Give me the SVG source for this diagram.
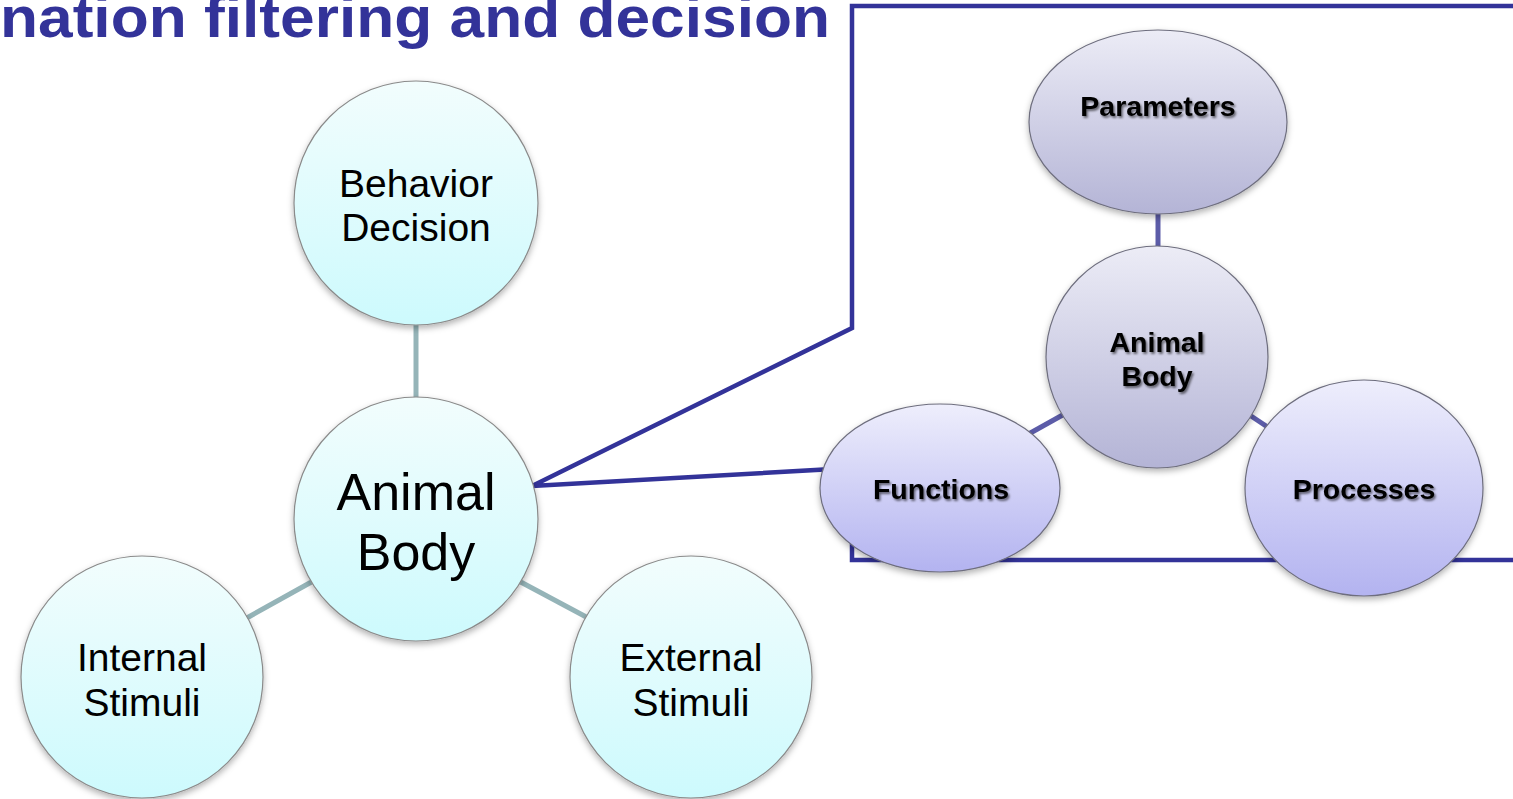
<svg xmlns="http://www.w3.org/2000/svg" width="1513" height="799" viewBox="0 0 1513 799">
<defs>
<linearGradient id="gCyan" x1="0" y1="0" x2="0" y2="1">
<stop offset="0" stop-color="#f2fdfd"/>
<stop offset="1" stop-color="#cdfafd"/>
</linearGradient>
<linearGradient id="gGray" x1="0" y1="0" x2="0" y2="1">
<stop offset="0" stop-color="#ececf6"/>
<stop offset="1" stop-color="#b4b4d6"/>
</linearGradient>
<linearGradient id="gBlue" x1="0" y1="0" x2="0" y2="1">
<stop offset="0" stop-color="#eeeefc"/>
<stop offset="1" stop-color="#b3b3f0"/>
</linearGradient>
<filter id="sh" x="-20%" y="-20%" width="140%" height="150%">
<feDropShadow dx="0" dy="3" stdDeviation="3" flood-color="#000" flood-opacity="0.3"/>
</filter>
<filter id="tsh" x="-10%" y="-30%" width="120%" height="160%">
<feDropShadow dx="1.5" dy="2" stdDeviation="1.2" flood-color="#000" flood-opacity="0.55"/>
</filter>
<style>
.lc{fill:url(#gCyan);stroke:#8a8a8a;stroke-width:1.2;filter:url(#sh)}
.rg{fill:url(#gGray);stroke:#6e6e7e;stroke-width:1.2;filter:url(#sh)}
.rb{fill:url(#gBlue);stroke:#6e6e7e;stroke-width:1.2;filter:url(#sh)}
.lt{font-family:"Liberation Sans",Arial,sans-serif;font-size:39px;fill:#000;text-anchor:middle}
.big{font-size:52px}
.rt{font-family:"Liberation Sans",Arial,sans-serif;font-size:28.5px;font-weight:bold;fill:#000;text-anchor:middle;filter:url(#tsh)}
.lcon{stroke:#95b4b8;stroke-width:5;fill:none}
.rcon{stroke:#5c5ca8;stroke-width:5;fill:none}
</style>
</defs>
<rect width="1513" height="799" fill="#fff"/>
<text x="0" y="37" font-family="Liberation Sans,Arial,sans-serif" font-size="58" font-weight="bold" fill="#333399" textLength="830" lengthAdjust="spacingAndGlyphs">nation filtering and decision</text>
<g id="connectors">
<line class="lcon" x1="416" y1="320" x2="416" y2="402"/>
<line class="lcon" x1="315" y1="580" x2="245" y2="619"/>
<line class="lcon" x1="517" y1="580" x2="590" y2="619"/>
<line class="rcon" x1="1158" y1="210" x2="1158" y2="250"/>
<line class="rcon" x1="1068" y1="412" x2="1025" y2="436"/>
<line class="rcon" x1="1245" y1="412" x2="1272" y2="430"/>
</g>
<g id="callout">
<polyline points="1513,6 852,6 852,328 532,486 852,468 852,560 1513,560" fill="none" stroke="#333399" stroke-width="4.5" stroke-linejoin="miter" stroke-linecap="round"/>
</g>
<g id="behavior-decision">
<circle class="lc" cx="416" cy="203" r="122"/>
<text class="lt" x="416" y="197">Behavior</text>
<text class="lt" x="416" y="241">Decision</text>
</g>
<g id="animal-body-left">
<circle class="lc" cx="416" cy="519" r="122"/>
<text class="lt big" x="416" y="510">Animal</text>
<text class="lt big" x="416" y="570">Body</text>
</g>
<g id="internal-stimuli">
<circle class="lc" cx="142" cy="677" r="121"/>
<text class="lt" x="142" y="671">Internal</text>
<text class="lt" x="142" y="716">Stimuli</text>
</g>
<g id="external-stimuli">
<circle class="lc" cx="691" cy="677" r="121"/>
<text class="lt" x="691" y="671">External</text>
<text class="lt" x="691" y="716">Stimuli</text>
</g>
<g id="parameters">
<ellipse class="rg" cx="1158" cy="122" rx="129" ry="92"/>
<text class="rt" x="1158" y="116">Parameters</text>
</g>
<g id="animal-body-right">
<circle class="rg" cx="1157" cy="357" r="111"/>
<text class="rt" x="1157" y="352">Animal</text>
<text class="rt" x="1157" y="386">Body</text>
</g>
<g id="functions">
<ellipse class="rb" cx="940" cy="488" rx="120" ry="84"/>
<text class="rt" x="941" y="499">Functions</text>
</g>
<g id="processes">
<ellipse class="rb" cx="1364" cy="488" rx="119" ry="108"/>
<text class="rt" x="1364" y="499">Processes</text>
</g>
</svg>
